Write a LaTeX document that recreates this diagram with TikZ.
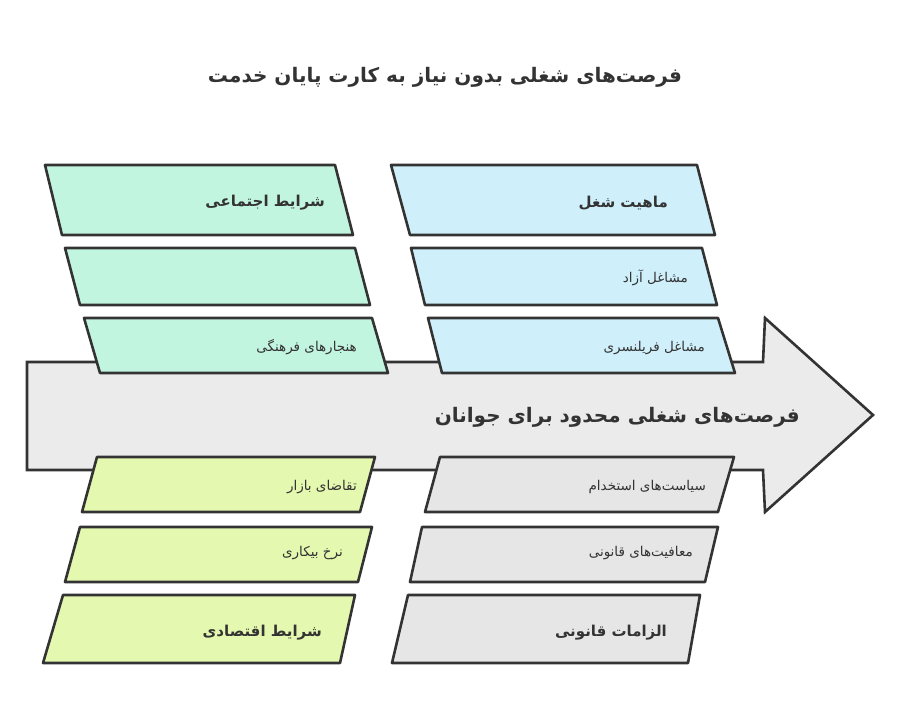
\documentclass[tikz,border=0pt]{standalone}
\usepackage{fontspec}
\TeXXeTstate=1
\newfontfamily\fa[Script=Arabic]{DejaVu Sans}
\definecolor{ink}{HTML}{333333}
\definecolor{mint}{HTML}{C2F5E0}
\definecolor{sky}{HTML}{CFF0FB}
\definecolor{lime}{HTML}{E4F8B0}
\definecolor{greyf}{HTML}{E6E6E6}
\definecolor{arrowf}{HTML}{EBEBEB}
\tikzset{
  pbox/.style={draw=ink, line width=2.6pt, line join=round},
  bigarrow/.style={draw=ink, line width=2.6pt, line join=miter, fill=arrowf},
  headtxt/.style={anchor=east, text=ink, font=\fa\bfseries\fontsize{15}{18}\selectfont, inner sep=0pt},
  itemtxt/.style={anchor=east, text=ink, font=\fa\fontsize{13.5}{16}\selectfont, inner sep=0pt},
  titletxt/.style={text=ink, font=\fa\bfseries\fontsize{20}{24}\selectfont, inner sep=0pt},
}
\begin{document}
\begin{tikzpicture}[x=1pt,y=-1pt]
\useasboundingbox (0,0) rectangle (900,720);
% title
\node[titletxt] (title) at (445,77) {\beginR فرصت‌های شغلی بدون نیاز به کارت پایان خدمت\endR};
% big arrow
\draw[bigarrow] (27,362) -- (763,362) -- (765,318) -- (873,415) -- (765,512) -- (763,470) -- (27,470) -- cycle;
\node[headtxt, font=\fa\bfseries\fontsize{20}{24}\selectfont] (main) at (800,417) {\beginR فرصت‌های شغلی محدود برای جوانان\endR};
% green column
\draw[pbox, fill=mint] (45,165) -- (335,165) -- (353,235) -- (62,235) -- cycle;
\draw[pbox, fill=mint] (65,248) -- (355,248) -- (370,305) -- (80,305) -- cycle;
\draw[pbox, fill=mint] (84,318) -- (372,318) -- (388,373) -- (100,373) -- cycle;
\node[headtxt] (g1) at (325,203) {\beginR شرایط اجتماعی\endR};
\node[itemtxt] (g3) at (357,347) {\beginR هنجارهای فرهنگی\endR};
% blue column
\draw[pbox, fill=sky] (391,165) -- (697,165) -- (715,235) -- (410,235) -- cycle;
\draw[pbox, fill=sky] (411,248) -- (702,248) -- (717,305) -- (425,305) -- cycle;
\draw[pbox, fill=sky] (428,318) -- (718,318) -- (735,373) -- (442,373) -- cycle;
\node[headtxt] (b1) at (668,203) {\beginR ماهیت شغل\endR};
\node[itemtxt] (b2) at (688,278) {\beginR مشاغل آزاد\endR};
\node[itemtxt] (b3) at (705,348) {\beginR مشاغل فریلنسری\endR};
% lime column
\draw[pbox, fill=lime] (97,457) -- (375,457) -- (360,512) -- (82,512) -- cycle;
\draw[pbox, fill=lime] (80,527) -- (372,527) -- (358,582) -- (65,582) -- cycle;
\draw[pbox, fill=lime] (63,595) -- (355,595) -- (340,663) -- (43,663) -- cycle;
\node[itemtxt] (y1) at (357,487) {\beginR تقاضای بازار\endR};
\node[itemtxt] (y2) at (343,553) {\beginR نرخ بیکاری\endR};
\node[headtxt] (y3) at (322,633) {\beginR شرایط اقتصادی\endR};
% grey column
\draw[pbox, fill=greyf] (440,457) -- (734,457) -- (718,512) -- (425,512) -- cycle;
\draw[pbox, fill=greyf] (422,527) -- (718,527) -- (705,582) -- (410,582) -- cycle;
\draw[pbox, fill=greyf] (408,595) -- (700,595) -- (688,663) -- (392,663) -- cycle;
\node[itemtxt] (r1) at (706,487) {\beginR سیاست‌های استخدام\endR};
\node[itemtxt] (r2) at (693,553) {\beginR معافیت‌های قانونی\endR};
\node[headtxt] (r3) at (667,633) {\beginR الزامات قانونی\endR};
\end{tikzpicture}
\end{document}
